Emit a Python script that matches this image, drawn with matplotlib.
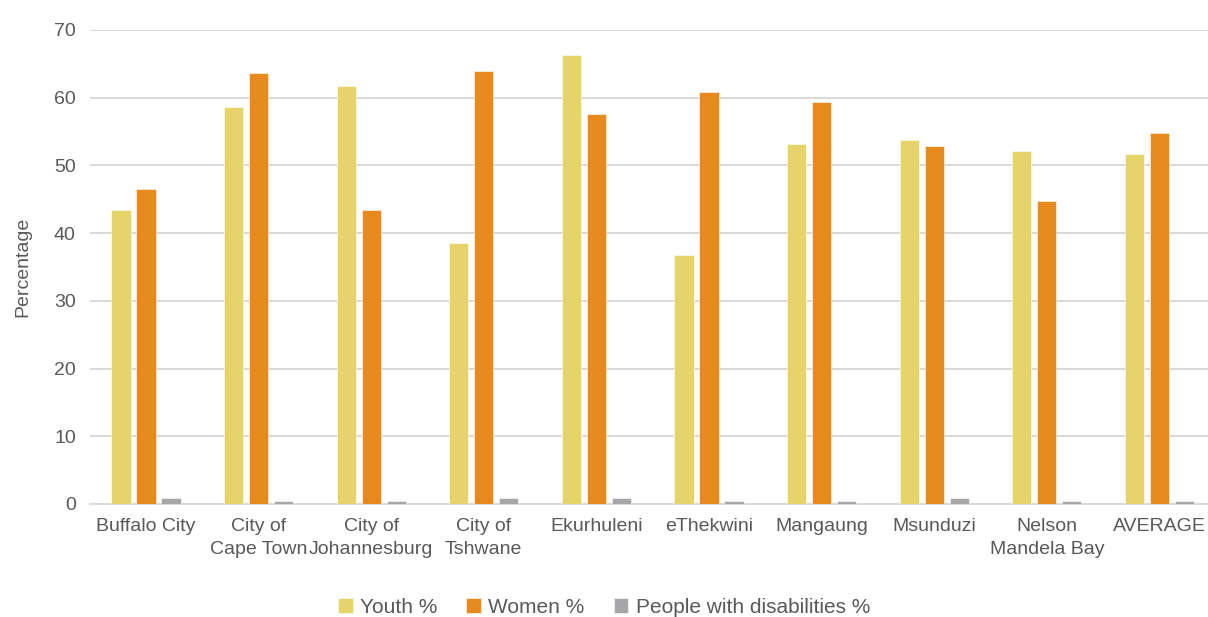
import matplotlib
matplotlib.use("Agg")
import matplotlib.pyplot as plt
import numpy as np

plt.rcParams['font.family'] = ['Liberation Sans', 'DejaVu Sans']

categories = ["Buffalo City", "City of\nCape Town", "City of\nJohannesburg", "City of\nTshwane",
              "Ekurhuleni", "eThekwini", "Mangaung", "Msunduzi", "Nelson\nMandela Bay", "AVERAGE"]
youth = [43.4, 58.7, 61.8, 38.5, 66.3, 36.8, 53.1, 53.8, 52.1, 51.7]
women = [46.5, 63.6, 43.4, 63.9, 57.6, 60.8, 59.4, 52.8, 44.8, 54.8]
disab = [0.9, 0.5, 0.5, 0.9, 0.9, 0.5, 0.5, 0.9, 0.5, 0.5]
series_names = ["Youth %", "Women %", "People with disabilities %"]
colors = ["#E6D46A", "#E8891D", "#A6A6A8"]
yticks = [0, 10, 20, 30, 40, 50, 60, 70]

W, H = 1208, 617
fig = plt.figure(figsize=(W / 100, H / 100), dpi=100)
ax = fig.add_axes([89.7 / W, 113 / H, 1126 / W, 474 / H])

x = np.arange(len(categories))
bw = 0.17
off = 0.222
for i, (vals, name, c) in enumerate(zip([youth, women, disab], series_names, colors)):
    ax.bar(x + (i - 1) * off, vals, width=bw, color=c, label=name, zorder=3,
           edgecolor='white', linewidth=0.4)

ax.set_xlim(-0.5, len(categories) - 0.5)
ax.set_ylim(0, 70)
ax.set_yticks(yticks)
ax.set_xticks(x)
ax.set_xticklabels(categories, fontsize=14, color='#595959', linespacing=1.5)
ax.tick_params(axis='y', labelsize=14, labelcolor='#595959', length=0, pad=10)
ax.tick_params(axis='x', length=0, pad=10)
ax.yaxis.grid(True, color='#D9D9D9', linewidth=1.4, zorder=0)
ax.set_axisbelow(True)
for s in ['top', 'right', 'left']:
    ax.spines[s].set_visible(False)
ax.spines['bottom'].set_color('#D9D9D9')
ax.spines['bottom'].set_linewidth(1.4)
ax.set_ylabel("Percentage", fontsize=14, color='#595959')
ax.yaxis.set_label_coords(-0.052, 0.5)

fig.legend(loc='lower center', bbox_to_anchor=(0.5, -0.03), ncol=3, frameon=False,
           fontsize=15, labelcolor='#595959', handlelength=0.7, handleheight=0.7,
           handletextpad=0.35, columnspacing=1.4)

fig.savefig("out.png", dpi=100)
